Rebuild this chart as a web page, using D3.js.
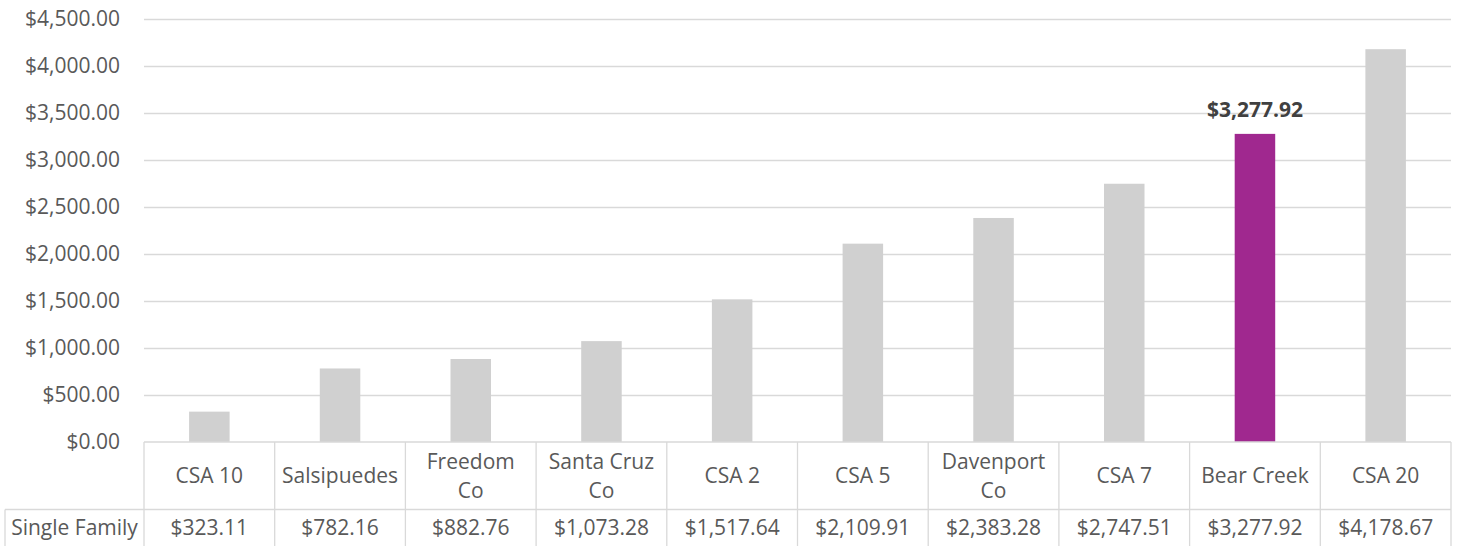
<!DOCTYPE html>
<html><head><meta charset="utf-8">
<script src="https://cdn.jsdelivr.net/npm/d3@7"></script>
<style>body{margin:0;background:#fff}svg{display:block}</style>
</head><body>
<svg id="c" width="1458" height="546"></svg>
<script>
const categories = [["CSA 10"],["Salsipuedes"],["Freedom","Co"],["Santa Cruz","Co"],["CSA 2"],["CSA 5"],["Davenport","Co"],["CSA 7"],["Bear Creek"],["CSA 20"]];
const seriesName = "Single Family";
const values = [323.11, 782.16, 882.76, 1073.28, 1517.64, 2109.91, 2383.28, 2747.51, 3277.92, 4178.67];
const highlightIndex = 8;
const yTicks = [0,500,1000,1500,2000,2500,3000,3500,4000,4500];

const svg = d3.select("#c");
const font = "'Open Sans', sans-serif";
const fs = 21;
const L = 144, R = 1451, T = 19, B = 442;
const rowSplit = 509.5, tableBottom = 560, tableLeft = 5;

const x = d3.scaleBand().domain(d3.range(values.length)).range([L, R]).paddingInner(0.69).paddingOuter(0.345);
const xc = d3.scaleBand().domain(d3.range(values.length)).range([L, R]);
const y = d3.scaleLinear().domain([0, 4500]).range([B, T]);
const fmt = d3.format("$,.2f");

// gridlines
svg.append("g").selectAll("line").data(yTicks.filter(d=>d>0)).join("line")
  .attr("x1", L).attr("x2", R).attr("y1", d=>y(d)+0.5).attr("y2", d=>y(d)+0.5)
  .attr("stroke", "#d9d9d9").attr("stroke-width", 1.3);

// y axis labels
svg.append("g").selectAll("text").data(yTicks).join("text")
  .attr("x", 120).attr("y", d=>y(d)).attr("dy","0.35em").attr("text-anchor","end")
  .attr("font-family", font).attr("font-size", fs).attr("fill", "#595959")
  .text(d=>fmt(d));

// bars
svg.append("g").selectAll("rect").data(values).join("rect")
  .attr("x", (d,i)=>x(i)).attr("width", x.bandwidth())
  .attr("y", d=>y(d)).attr("height", d=>B - y(d))
  .attr("fill", (d,i)=> i===highlightIndex ? "#a0288f" : "#d0d0d0");

// highlight label
svg.append("text").attr("x", x(highlightIndex)+x.bandwidth()/2).attr("y", y(values[highlightIndex]) - 24)
  .attr("dy","0.35em")
  .attr("text-anchor","middle").attr("font-family", font).attr("font-weight","bold")
  .attr("font-size", fs).attr("fill","#404040").text(fmt(values[highlightIndex]));

// table
const tg = svg.append("g").attr("stroke", "#d9d9d9").attr("stroke-width", 1.3).attr("fill","none");
tg.append("line").attr("x1", L).attr("x2", R).attr("y1", B).attr("y2", B);
tg.append("line").attr("x1", tableLeft).attr("x2", R).attr("y1", rowSplit).attr("y2", rowSplit);
const bounds = xc.domain().map(i=>xc(i)).concat([R]);
tg.selectAll("line.v").data(bounds).join("line").attr("class","v")
  .attr("x1", d=>d).attr("x2", d=>d).attr("y1", B).attr("y2", tableBottom);
tg.append("line").attr("x1", tableLeft).attr("x2", tableLeft).attr("y1", rowSplit).attr("y2", tableBottom);

// category labels
const cg = svg.append("g");
categories.forEach((lines,i)=>{
  const cx = xc(i) + xc.bandwidth()/2;
  const mid = 476;
  const lh = 29;
  lines.forEach((t,j)=>{
    cg.append("text").attr("x", cx).attr("y", mid + (j - (lines.length-1)/2)*lh).attr("dy","0.35em")
      .attr("text-anchor","middle").attr("font-family", font).attr("font-size", fs).attr("fill","#595959").text(t);
  });
});
// series row
svg.append("text").attr("x", (tableLeft+L)/2).attr("y", 528).attr("dy","0.35em").attr("text-anchor","middle")
  .attr("font-family", font).attr("font-size", fs).attr("fill","#595959").text(seriesName);
svg.append("g").selectAll("text").data(values).join("text")
  .attr("x", (d,i)=>xc(i)+xc.bandwidth()/2).attr("y", 528).attr("dy","0.35em").attr("text-anchor","middle")
  .attr("font-family", font).attr("font-size", fs).attr("fill","#595959").text(d=>fmt(d));
</script>
</body></html>
